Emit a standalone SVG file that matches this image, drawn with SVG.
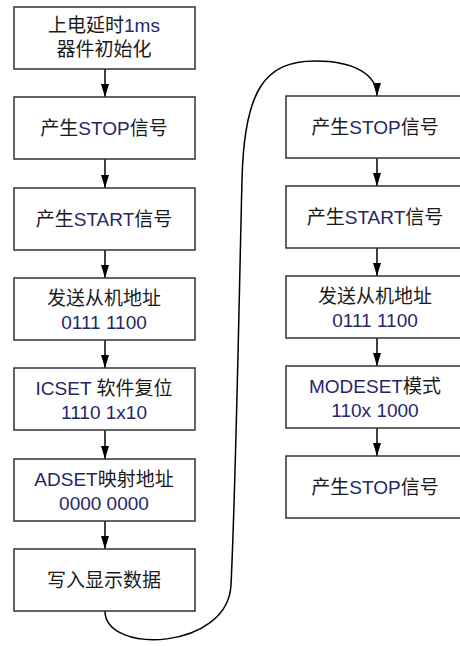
<svg xmlns="http://www.w3.org/2000/svg" width="460" height="646" viewBox="0 0 460 646">
<style>
.box{fill:#ffffff;stroke:#333333;stroke-width:1.5}
.t{font-family:"Liberation Sans","Noto Sans CJK SC",sans-serif;font-size:19px;fill:#1a1a1a;text-anchor:middle}
.l{fill:#26266a}
.c{fill:none;stroke:#000000;stroke-width:1.5}
</style>
<defs>
<marker id="ah" markerUnits="userSpaceOnUse" markerWidth="13" markerHeight="8" viewBox="0 0 13 8" refX="13" refY="4" orient="auto">
<path d="M0,0 L13,4 L0,8 z" fill="#000000"/>
</marker>
</defs>
<rect width="460" height="646" fill="#ffffff"/>
<g id="connectors">
<line class="c" x1="105" y1="69" x2="105" y2="97" marker-end="url(#ah)"/>
<line class="c" x1="105" y1="159" x2="105" y2="188" marker-end="url(#ah)"/>
<line class="c" x1="105" y1="250" x2="105" y2="278" marker-end="url(#ah)"/>
<line class="c" x1="105" y1="340" x2="105" y2="368" marker-end="url(#ah)"/>
<line class="c" x1="105" y1="430" x2="105" y2="459" marker-end="url(#ah)"/>
<line class="c" x1="105" y1="521" x2="105" y2="549" marker-end="url(#ah)"/>
<path class="c" d="M105,611 C105,655 228,650 231,585 C236,480 239,300 242,180 C244,90 265,61 315,61 C355,61 377,75 377,96" marker-end="url(#ah)"/>
<line class="c" x1="377" y1="158" x2="377" y2="186" marker-end="url(#ah)"/>
<line class="c" x1="377" y1="248" x2="377" y2="276" marker-end="url(#ah)"/>
<line class="c" x1="377" y1="338" x2="377" y2="366" marker-end="url(#ah)"/>
<line class="c" x1="377" y1="428" x2="377" y2="456" marker-end="url(#ah)"/>
</g>
<g id="n1"><rect class="box" x="14" y="7" width="181" height="62"/>
<text class="t" x="104" y="32">上电延时<tspan class="l">1ms</tspan></text>
<text class="t" x="104" y="56">器件初始化</text></g>
<g id="n2"><rect class="box" x="14" y="97" width="181" height="62"/>
<text class="t" x="104" y="135">产生<tspan class="l">STOP</tspan>信号</text></g>
<g id="n3"><rect class="box" x="14" y="188" width="181" height="62"/>
<text class="t" x="104" y="226">产生<tspan class="l">START</tspan>信号</text></g>
<g id="n4"><rect class="box" x="14" y="278" width="181" height="62"/>
<text class="t" x="104" y="305">发送从机地址</text>
<text class="t l" x="104" y="329">0111 1100</text></g>
<g id="n5"><rect class="box" x="14" y="368" width="181" height="62"/>
<text class="t" x="104" y="395"><tspan class="l">ICSET</tspan> 软件复位</text>
<text class="t l" x="104" y="419">1110 1x10</text></g>
<g id="n6"><rect class="box" x="14" y="459" width="181" height="62"/>
<text class="t" x="104" y="486"><tspan class="l">ADSET</tspan>映射地址</text>
<text class="t l" x="104" y="510">0000 0000</text></g>
<g id="n7"><rect class="box" x="14" y="549" width="181" height="62"/>
<text class="t" x="104" y="587">写入显示数据</text></g>
<g id="m1"><rect class="box" x="286" y="96" width="182" height="62"/>
<text class="t" x="375" y="134">产生<tspan class="l">STOP</tspan>信号</text></g>
<g id="m2"><rect class="box" x="286" y="186" width="182" height="62"/>
<text class="t" x="375" y="224">产生<tspan class="l">START</tspan>信号</text></g>
<g id="m3"><rect class="box" x="286" y="276" width="182" height="62"/>
<text class="t" x="375" y="303">发送从机地址</text>
<text class="t l" x="375" y="327">0111 1100</text></g>
<g id="m4"><rect class="box" x="286" y="366" width="182" height="62"/>
<text class="t" x="375" y="393"><tspan class="l">MODESET</tspan>模式</text>
<text class="t l" x="375" y="417">110x 1000</text></g>
<g id="m5"><rect class="box" x="286" y="456" width="182" height="62"/>
<text class="t" x="375" y="494">产生<tspan class="l">STOP</tspan>信号</text></g>
</svg>
